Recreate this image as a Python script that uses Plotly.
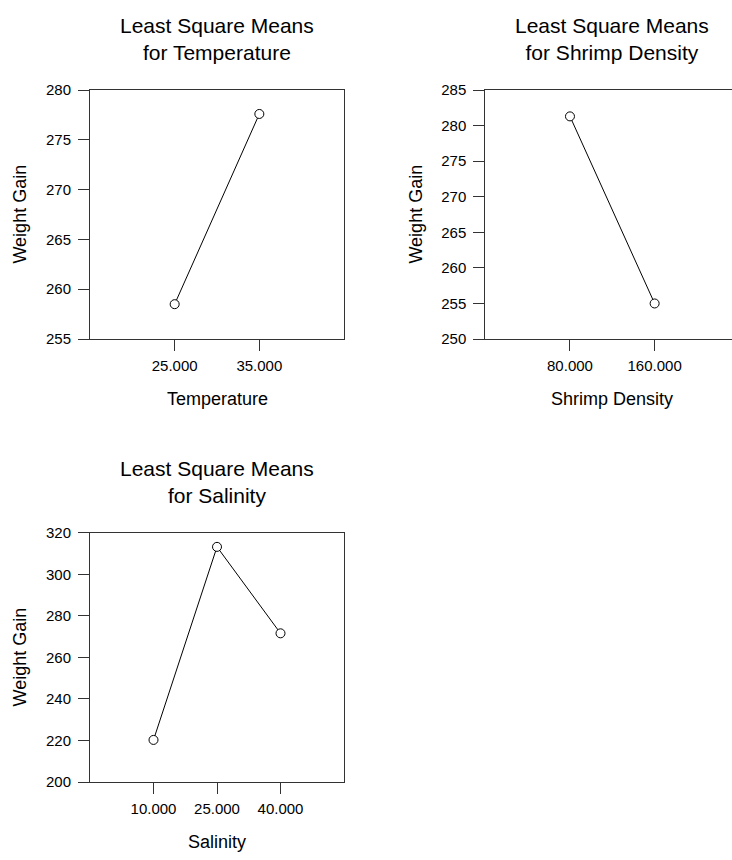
import plotly.graph_objects as go

# Least square means of weight gain for each factor level
temp_levels = ["25.000", "35.000"]
temp_means = [258.5, 277.6]

density_levels = ["80.000", "160.000"]
density_means = [281.3, 255.0]

salinity_levels = ["10.000", "25.000", "40.000"]
salinity_means = [220.3, 313.2, 271.6]

W, H = 732, 860
FONT = "Liberation Sans, Arial, sans-serif"
AX = "#333333"


def px_x(x):
    return x / W


def px_y(y):
    return 1 - y / H


fig = go.Figure()

panels = [
    dict(x=temp_levels, y=temp_means, xa="x", ya="y"),
    dict(x=density_levels, y=density_means, xa="x2", ya="y2"),
    dict(x=salinity_levels, y=salinity_means, xa="x3", ya="y3"),
]
for p in panels:
    fig.add_trace(go.Scatter(
        x=p["x"], y=p["y"], xaxis=p["xa"], yaxis=p["ya"],
        mode="lines+markers",
        line=dict(color="black", width=1),
        marker=dict(symbol="circle", size=9, color="white",
                    line=dict(color="black", width=1)),
        showlegend=False, hoverinfo="skip", cliponaxis=False,
    ))

tickfont = dict(family=FONT, size=15, color="black")


def xaxis(domain, rng, anchor, mirror=True):
    return dict(domain=domain, range=rng, type="category", anchor=anchor,
                showline=True, linecolor=AX, linewidth=1, mirror=mirror,
                ticks="outside", ticklen=11, tickcolor=AX, tickwidth=1,
                ticklabelstandoff=2,
                showgrid=False, zeroline=False, tickfont=tickfont,
                fixedrange=True)


def yaxis(domain, rng, dtick, anchor, mirror=True):
    return dict(domain=domain, range=rng, dtick=dtick, tick0=0, anchor=anchor,
                showline=True, linecolor=AX, linewidth=1, mirror=mirror,
                ticks="outside", ticklen=11, tickcolor=AX, tickwidth=1,
                ticklabelstandoff=4,
                showgrid=False, zeroline=False, tickfont=tickfont,
                fixedrange=True)


# panel boxes (pixel coordinates)
L1, R1 = 90, 344
T1, B1 = 82.7, 336.7
L2 = 485.3
box_w = R1 - L1
T3, B3 = 534.3, 788.7

# second panel runs off the right edge of the page
x2_span = 3 * (W - L2) / box_w

fig.update_layout(
    width=W, height=H,
    margin=dict(l=0, r=0, t=0, b=0),
    paper_bgcolor="white", plot_bgcolor="white",
    xaxis=xaxis([px_x(L1), px_x(R1)], [-1, 2], "y"),
    yaxis=yaxis([px_y(B1), px_y(T1)], [255, 280], 5, "x"),
    xaxis2=xaxis([px_x(L2), 1.0], [-1, -1 + x2_span], "y2"),
    yaxis2=yaxis([px_y(B1), px_y(T1)], [250, 285], 5, "x2", mirror=False),
    xaxis3=xaxis([px_x(L1), px_x(R1)], [-1, 3], "y3"),
    yaxis3=yaxis([px_y(B3), px_y(T3)], [200, 320], 20, "x3"),
)

title_font = dict(family=FONT, size=21, color="black")
label_font = dict(family=FONT, size=18, color="black")

c1 = (L1 + R1) / 2
c2 = L2 + box_w / 2

annotations = [
    # panel titles
    dict(x=px_x(c1), y=px_y(30.5), text="Least Square Means<br>for Temperature",
         font=title_font),
    dict(x=px_x(c2), y=px_y(30.5), text="Least Square Means<br>for Shrimp Density",
         font=title_font),
    dict(x=px_x(c1), y=px_y(482.5), text="Least Square Means<br>for Salinity",
         font=title_font),
    # x-axis titles
    dict(x=px_x(c1), y=px_y(398), text="Temperature", font=label_font),
    dict(x=px_x(c2), y=px_y(398), text="Shrimp Density", font=label_font),
    dict(x=px_x(c1), y=px_y(850), text="Salinity", font=label_font),
    # y-axis titles
    dict(x=px_x(20), y=px_y((T1 + B1) / 2), text="Weight Gain", textangle=-90, font=label_font),
    dict(x=px_x(416), y=px_y((T1 + B1) / 2), text="Weight Gain", textangle=-90, font=label_font),
    dict(x=px_x(20), y=px_y((T3 + B3) / 2), text="Weight Gain", textangle=-90, font=label_font),
]
for a in annotations:
    a.update(xref="paper", yref="paper", xanchor="center", yanchor="middle",
             showarrow=False)
fig.update_layout(annotations=annotations)

fig.write_html("out.html", config={"displayModeBar": False})
